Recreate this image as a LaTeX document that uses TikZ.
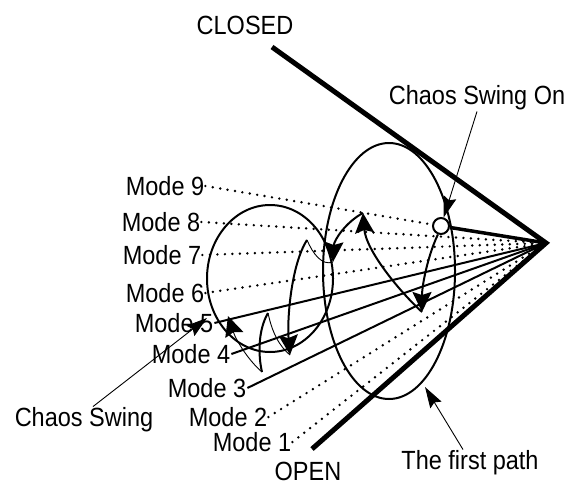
\documentclass[tikz,border=0pt]{standalone}
\usepackage{fontspec}
\setmainfont{Liberation Sans}
\usetikzlibrary{arrows.meta}
\newcommand{\tall}[1]{\scalebox{1}[1.12]{#1}}

\begin{document}
\begin{tikzpicture}[x=1pt, y=-1pt,
    lbl/.style={font=\fontsize{23.5}{26}\selectfont, inner sep=1pt},
    gate/.style={line width=5pt, line join=miter},
    modeline/.style={line width=2pt},
    modedot/.style={line width=2.7pt, line cap=round, dash pattern=on 0pt off 7.5pt},
    swing/.style={line width=2pt},
    turn/.style={line width=0.9pt},
    head/.style={-{Stealth[length=20pt, width=19pt, inset=3pt]}},
    pointer/.style={line width=0.9pt, -{Stealth[length=21pt, width=13pt, inset=3pt]}}]
    \useasboundingbox (0,0) rectangle (569,487);

    % Valve limits
    \coordinate (apex) at (546,243);
    \coordinate (cl) at (272,47);
    \coordinate (op) at (312,449);
    \node[lbl] (closed) at (245,25) {\tall{CLOSED}};
    \node[lbl] (open) at (308,471) {\tall{OPEN}};
    \draw[gate] (cl) -- (apex) -- (op);

    % Mode labels
    \node[lbl] (m9) at (165,186) {\tall{Mode 9}};
    \node[lbl] (m8) at (161,222) {\tall{Mode 8}};
    \node[lbl] (m7) at (162,255) {\tall{Mode 7}};
    \node[lbl] (m6) at (165,293) {\tall{Mode 6}};
    \node[lbl] (m5) at (174,323) {\tall{Mode 5}};
    \node[lbl] (m4) at (191,354) {\tall{Mode 4}};
    \node[lbl] (m3) at (207,388) {\tall{Mode 3}};
    \node[lbl] (m2) at (228,417) {\tall{Mode 2}};
    \node[lbl] (m1) at (252,442) {\tall{Mode 1}};

    % Swing start
    \node[draw, circle, line width=2pt, minimum size=16pt, inner sep=0pt] (on) at (441,226) {};

    % Mode lines
    \draw[modedot] (m9.east) -- (on);
    \draw[line width=3.5pt] (on) -- (apex);
    \draw[modedot] (m8.east) -- (apex);
    \draw[modedot] (m7.east) -- (apex);
    \draw[modedot] (m6.east) -- (apex);
    \draw[modeline] (m5.east) -- (apex);
    \draw[modeline] (m4.east) -- (apex);
    \draw[modeline] (m3.east) -- (apex);
    \draw[modedot] (m2.east) -- (apex);
    \draw[modedot] (m1.east) -- (apex);

    % Paths
    \draw[swing] (270,278.5) ellipse [x radius=63pt, y radius=73.5pt];
    \draw[swing] (389,271) ellipse [x radius=66pt, y radius=128pt];

    % Swing trajectory
    \coordinate (p1) at (422,312);
    \coordinate (t3) at (363,213);
    \coordinate (p2) at (333,262);
    \coordinate (t2) at (307,240);
    \coordinate (p3) at (290,355);
    \coordinate (t1) at (268,313);
    \coordinate (b1) at (262,372);
    \coordinate (p4) at (228,316);
    \draw[swing, head] (on.250) .. controls (428,255) and (422,285) .. (p1);
    \draw[swing, head] (p1) .. controls (398,290) and (366,250) .. (t3);
    \draw[swing, head] (t3) .. controls (346,222) and (334,240) .. (p2);
    \draw[turn] (p2) .. controls (322,266) and (313,254) .. (t2);
    \draw[swing, head] (t2) .. controls (291,265) and (287,320) .. (p3);
    \draw[turn] (p3) .. controls (279,346) and (272,332) .. (t1);
    \draw[swing] (t1) .. controls (258,330) and (258,355) .. (b1);
    \draw[turn, head] (b1) .. controls (248,360) and (236,340) .. (p4);

    % Callouts
    \node[lbl] (onlbl) at (477,98) {\tall{Chaos Swing On}};
    \node[lbl] (cs) at (84,420) {\tall{Chaos Swing}};
    \node[lbl] (fp) at (470,463) {\tall{The first path}};
    \coordinate (cstip) at (207,318);
    \coordinate (fptip) at (425,387);
    \draw[pointer] (onlbl.south) -- (on);
    \draw[pointer] ([xshift=9pt]cs.north) -- (cstip);
    \draw[pointer] ([xshift=-7pt]fp.north) -- (fptip);
\end{tikzpicture}
\end{document}
